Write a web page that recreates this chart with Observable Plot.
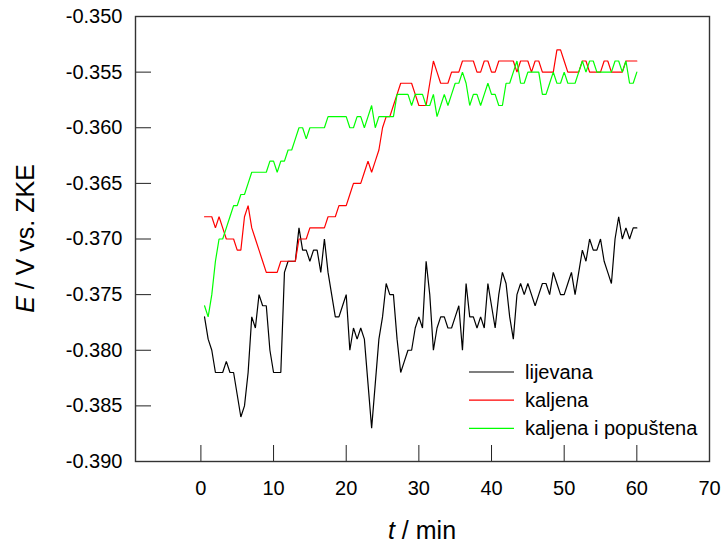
<!DOCTYPE html>
<html>
<head>
<meta charset="utf-8">
<script src="https://cdn.jsdelivr.net/npm/d3@7"></script>
<script src="https://cdn.jsdelivr.net/npm/@observablehq/plot@0.6"></script>
<style>
  html, body { margin: 0; padding: 0; background: #fff; }
  #chart { width: 724px; height: 552px; }
  svg { display: block; }
</style>
</head>
<body>
<div id="chart"></div>
<script>
// ---- data ----
const time = [
  0.5, 1, 1.5, 2, 2.5, 3, 3.5, 4, 4.5, 5,
  5.5, 6, 6.5, 7, 7.5, 8, 8.5, 9, 9.5, 10,
  10.5, 11, 11.5, 12, 12.5, 13, 13.5, 14, 14.5, 15,
  15.5, 16, 16.5, 17, 17.5, 18, 18.5, 19, 19.5, 20,
  20.5, 21, 21.5, 22, 22.5, 23, 23.5, 24, 24.5, 25,
  25.5, 26, 26.5, 27, 27.5, 28, 28.5, 29, 29.5, 30,
  30.5, 31, 31.5, 32, 32.5, 33, 33.5, 34, 34.5, 35,
  35.5, 36, 36.5, 37, 37.5, 38, 38.5, 39, 39.5, 40,
  40.5, 41, 41.5, 42, 42.5, 43, 43.5, 44, 44.5, 45,
  45.5, 46, 46.5, 47, 47.5, 48, 48.5, 49, 49.5, 50,
  50.5, 51, 51.5, 52, 52.5, 53, 53.5, 54, 54.5, 55,
  55.5, 56, 56.5, 57, 57.5, 58, 58.5, 59, 59.5, 60
];

const lijevana = [
  -0.377, -0.379, -0.380, -0.382, -0.382, -0.382, -0.381, -0.382, -0.382, -0.384,
  -0.386, -0.385, -0.382, -0.377, -0.378, -0.375, -0.376, -0.376, -0.380, -0.382,
  -0.382, -0.382, -0.373, -0.372, -0.372, -0.372, -0.369, -0.371, -0.371, -0.372,
  -0.371, -0.371, -0.373, -0.370, -0.373, -0.375, -0.377, -0.377, -0.376, -0.375,
  -0.380, -0.378, -0.379, -0.378, -0.379, -0.383, -0.387, -0.383, -0.379, -0.377,
  -0.374, -0.375, -0.375, -0.379, -0.382, -0.381, -0.380, -0.380, -0.378, -0.377,
  -0.378, -0.372, -0.375, -0.380, -0.378, -0.377, -0.377, -0.378, -0.378, -0.377,
  -0.376, -0.380, -0.374, -0.377, -0.377, -0.378, -0.377, -0.378, -0.374, -0.376,
  -0.378, -0.375, -0.373, -0.374, -0.377, -0.379, -0.375, -0.374, -0.375, -0.374,
  -0.375, -0.376, -0.375, -0.374, -0.374, -0.375, -0.373, -0.374, -0.375, -0.375,
  -0.374, -0.373, -0.375, -0.373, -0.371, -0.372, -0.370, -0.371, -0.371, -0.370,
  -0.372, -0.373, -0.374, -0.370, -0.368, -0.370, -0.369, -0.370, -0.369, -0.369
];

const kaljena = [
  -0.368, -0.368, -0.368, -0.369, -0.368, -0.369, -0.370, -0.370, -0.370, -0.371,
  -0.371, -0.368, -0.367, -0.369, -0.370, -0.371, -0.372, -0.373, -0.373, -0.373,
  -0.373, -0.372, -0.372, -0.372, -0.372, -0.372, -0.370, -0.370, -0.370, -0.369,
  -0.369, -0.369, -0.369, -0.369, -0.368, -0.368, -0.368, -0.367, -0.367, -0.367,
  -0.366, -0.365, -0.365, -0.365, -0.364, -0.363, -0.364, -0.363, -0.362, -0.360,
  -0.359, -0.359, -0.358, -0.357, -0.356, -0.356, -0.356, -0.356, -0.357, -0.358,
  -0.358, -0.358, -0.356, -0.354, -0.355, -0.356, -0.356, -0.356, -0.355, -0.355,
  -0.355, -0.354, -0.354, -0.354, -0.354, -0.355, -0.355, -0.354, -0.354, -0.355,
  -0.355, -0.354, -0.354, -0.354, -0.354, -0.354, -0.355, -0.354, -0.354, -0.354,
  -0.355, -0.354, -0.354, -0.355, -0.355, -0.355, -0.355, -0.353, -0.353, -0.354,
  -0.355, -0.355, -0.355, -0.355, -0.354, -0.354, -0.355, -0.355, -0.355, -0.355,
  -0.354, -0.354, -0.355, -0.355, -0.355, -0.355, -0.354, -0.354, -0.354, -0.354
];

const kaljenaIPopustena = [
  -0.376, -0.377, -0.375, -0.372, -0.370, -0.370, -0.369, -0.368, -0.367, -0.367,
  -0.366, -0.366, -0.365, -0.364, -0.364, -0.364, -0.364, -0.364, -0.363, -0.363,
  -0.364, -0.363, -0.363, -0.362, -0.362, -0.361, -0.360, -0.360, -0.361, -0.360,
  -0.360, -0.360, -0.360, -0.360, -0.359, -0.359, -0.359, -0.359, -0.359, -0.359,
  -0.360, -0.360, -0.359, -0.359, -0.360, -0.359, -0.358, -0.360, -0.359, -0.359,
  -0.359, -0.359, -0.359, -0.357, -0.357, -0.357, -0.357, -0.358, -0.357, -0.357,
  -0.357, -0.358, -0.358, -0.357, -0.359, -0.358, -0.357, -0.358, -0.357, -0.356,
  -0.356, -0.355, -0.356, -0.358, -0.357, -0.357, -0.358, -0.357, -0.356, -0.357,
  -0.357, -0.358, -0.358, -0.356, -0.356, -0.355, -0.354, -0.356, -0.356, -0.355,
  -0.355, -0.355, -0.355, -0.357, -0.357, -0.356, -0.355, -0.356, -0.356, -0.355,
  -0.356, -0.356, -0.356, -0.355, -0.354, -0.355, -0.354, -0.354, -0.355, -0.355,
  -0.355, -0.355, -0.355, -0.354, -0.354, -0.355, -0.354, -0.356, -0.356, -0.355
];

const seriesNames = ["lijevana", "kaljena", "kaljena i popuštena"];
const seriesColors = ["#000000", "#ff0000", "#00ff00"];
const xTicks = [0, 10, 20, 30, 40, 50, 60, 70];
const yTicks = [-0.390, -0.385, -0.380, -0.375, -0.370, -0.365, -0.360, -0.355, -0.350];
const xDomain = [-9, 70];
const yDomain = [-0.390, -0.350];

// ---- build table ----
const seriesValues = [lijevana, kaljena, kaljenaIPopustena];
const rows = [];
seriesNames.forEach((name, k) => {
  time.forEach((t, i) => rows.push({ t, E: seriesValues[k][i], s: name }));
});

const FONT = "'Liberation Sans', Arial, Helvetica, sans-serif";

const chart = Plot.plot({
  width: 724,
  height: 552,
  marginLeft: 135,
  marginRight: 15,
  marginTop: 16,
  marginBottom: 91,
  style: { fontFamily: FONT, fontSize: "20px", background: "#ffffff", color: "#000" },
  x: { domain: xDomain, label: null },
  y: { domain: yDomain, label: null },
  color: { domain: seriesNames, range: seriesColors },
  marks: [
    Plot.axisX({ ticks: xTicks, tickSize: -16, tickPadding: 35, tickFormat: d => String(d), label: null, stroke: "#222", fontSize: 20 }),
    Plot.axisY({ ticks: yTicks, tickSize: -16, tickPadding: 29, tickFormat: d => d.toFixed(3), label: null, stroke: "#222", fontSize: 20 }),
    Plot.line(rows, { x: "t", y: "E", z: "s", stroke: "s", strokeWidth: 1.2, strokeLinejoin: "miter" }),
    Plot.frame({ stroke: "#333", strokeWidth: 1.4 })
  ]
});

document.getElementById("chart").appendChild(chart);

// ---- axis titles and legend (text overlays) ----
const svg = d3.select(chart);

const yt = svg.append("text")
  .attr("transform", "translate(34,238.5) rotate(-90)")
  .attr("text-anchor", "middle")
  .style("font-family", FONT).style("font-size", "25px").attr("fill", "#000")
  .style("white-space", "pre");
yt.append("tspan").style("font-style", "italic").text("E");
yt.append("tspan").text(" / V vs. ZKE");

const xt = svg.append("text")
  .attr("transform", "translate(422,539)")
  .attr("text-anchor", "middle")
  .style("font-family", FONT).style("font-size", "25px").attr("fill", "#000")
  .style("white-space", "pre");
xt.append("tspan").style("font-style", "italic").text("t");
xt.append("tspan").text(" / min");

const lg = svg.append("g").attr("transform", "translate(469,372)");
seriesNames.forEach((name, k) => {
  const row = lg.append("g").attr("transform", `translate(0,${k * 28.2})`);
  row.append("line").attr("x1", 0).attr("x2", 45).attr("y1", 0).attr("y2", 0)
    .attr("stroke", seriesColors[k]).attr("stroke-width", 1.2);
  row.append("text").attr("x", 56).attr("y", 0).attr("dy", "0.35em")
    .attr("text-anchor", "start")
    .style("font-family", FONT).style("font-size", "20px").attr("fill", "#000")
    .text(name);
});
</script>
</body>
</html>
